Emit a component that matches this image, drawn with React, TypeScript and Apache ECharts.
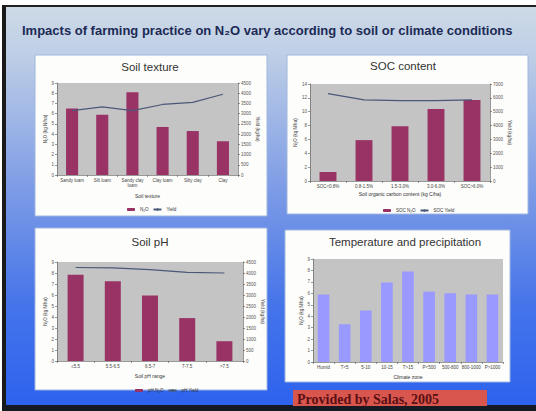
import React, { useEffect, useRef } from "react";
import * as echarts from "echarts";

const slideTitle = "Impacts of farming practice on N\u2082O vary according to soil or climate conditions";
const credit = "Provided by Salas, 2005";

const textureCats = ["Sandy loam", "Silt loam", "Sandy clay\nloam", "Clay loam", "Silty clay", "Clay"];
const textureN2O = [6.5, 5.9, 8.1, 4.7, 4.3, 3.3];
const textureYield = [3150, 3330, 3150, 3450, 3550, 3950];

const socCats = ["SOC<0.8%", "0.8-1.5%", "1.5-3.0%", "3.0-6.0%", "SOC>6.0%"];
const socN2O = [1.3, 5.9, 7.9, 10.4, 11.7];
const socYield = [6300, 5850, 5800, 5800, 5850];

const phCats = ["\u22645.5", "5.5-6.5", "6.5-7", "7-7.5", ">7.5"];
const phN2O = [7.85, 7.25, 5.95, 3.9, 1.8];
const phYield = [4250, 4230, 4150, 4030, 4000];

const climateCats = ["Humid", "T<5", "5-10", "10-15", "T>15", "P<500", "500-800", "800-1000", "P>1000"];
const climateN2O = [5.9, 3.3, 4.5, 6.95, 7.9, 6.15, 6.0, 5.9, 5.9];

const FONT = "Liberation Sans, Arial, sans-serif";
const PLOT_BG = "#c4c4c4";
const BAR = "#993366";
const LINE = "#4a5878";
const BAR2 = "#9999ff";

function catAxis(idx: number, cats: string[], name: string, gap: number) {
  return {
    type: "category",
    gridIndex: idx,
    data: cats,
    name,
    nameLocation: "middle",
    nameGap: gap,
    nameTextStyle: { fontSize: 5, color: "#333", fontFamily: FONT },
    axisLine: { lineStyle: { color: "#555", width: 0.6 } },
    axisTick: { show: true, lineStyle: { color: "#555", width: 0.6 }, length: 2 },
    axisLabel: { fontSize: 4.5, color: "#444", margin: 3, interval: 0, lineHeight: 5, fontFamily: FONT },
  };
}

function valAxis(idx: number, max: number, interval: number, name: string, right: boolean, digits = 0) {
  return {
    type: "value",
    gridIndex: idx,
    position: right ? "right" : "left",
    min: 0,
    max,
    interval,
    name,
    nameLocation: "middle",
    nameGap: right ? 15 : 9,
    nameRotate: right ? -90 : 90,
    nameTextStyle: { fontSize: 4.5, color: "#444", fontFamily: FONT },
    axisLine: { show: true, lineStyle: { color: "#555", width: 0.6 } },
    axisTick: { show: true, lineStyle: { color: "#555", width: 0.6 }, length: 2 },
    axisLabel: {
      fontSize: 4.5,
      color: "#555",
      margin: 3,
      fontFamily: FONT,
      formatter: (v: number) => v.toFixed(digits),
    },
    splitLine: { show: false },
  };
}

export default function App() {
  const ref = useRef<HTMLDivElement>(null);
  useEffect(() => {
    document.body.style.margin = "0";
    const chart = echarts.init(ref.current!, undefined, { renderer: "svg" });
    const panelStyle = { fill: "#fdfdfb", stroke: "#9fb6de", lineWidth: 1 };
    const titleStyle = (t: string) => ({ text: t, fontSize: 11.5, fill: "#333", align: "center", verticalAlign: "middle", fontFamily: FONT });
    const option: any = {
      animation: false,
      backgroundColor: "#ffffff",
      graphic: [
        {
          type: "rect",
          z: -10,
          shape: { x: 3, y: 5, width: 533, height: 401 },
          style: {
            fill: new echarts.graphic.LinearGradient(0, 0, 0, 1, [
              { offset: 0, color: "#cddae6" },
              { offset: 0.12, color: "#bfcfe6" },
              { offset: 0.45, color: "#7f9de6" },
              { offset: 0.75, color: "#4574ea" },
              { offset: 1, color: "#2d62ee" },
            ]),
          },
        },
        { type: "rect", z: -9, shape: { x: 2, y: 5, width: 534, height: 2 }, style: { fill: "#222" } },
        { type: "rect", z: -9, shape: { x: 2, y: 5, width: 4, height: 402 }, style: { fill: "#1a1a1a" } },
        { type: "rect", z: -9, shape: { x: 2, y: 405, width: 534, height: 6 }, style: { fill: "#151a22" } },
        {
          type: "text",
          z: -5,
          left: 22,
          top: 24,
          style: { text: slideTitle, fontSize: 13, fontWeight: "bold", fill: "#1c2a55", fontFamily: FONT },
        },
        { type: "rect", z: -8, shape: { x: 35, y: 55, width: 232, height: 161 }, style: panelStyle },
        { type: "rect", z: -8, shape: { x: 287, y: 55, width: 241, height: 159 }, style: panelStyle },
        { type: "rect", z: -8, shape: { x: 35, y: 228, width: 232, height: 162 }, style: panelStyle },
        { type: "rect", z: -8, shape: { x: 285, y: 230, width: 225, height: 152 }, style: panelStyle },
        { type: "text", z: -5, x: 150, y: 67, style: titleStyle("Soil texture") },
        { type: "text", z: -5, x: 403, y: 66, style: titleStyle("SOC content") },
        { type: "text", z: -5, x: 150, y: 242, style: titleStyle("Soil pH") },
        { type: "text", z: -5, x: 405, y: 242, style: titleStyle("Temperature and precipitation") },
        { type: "rect", z: -5, shape: { x: 293, y: 390, width: 194, height: 16 }, style: { fill: "#d9564e" } },
        {
          type: "text",
          z: -4,
          x: 297,
          y: 399,
          style: { text: credit, fontSize: 14, fontWeight: "bold", fill: "#5a0f12", verticalAlign: "middle", fontFamily: "Liberation Serif, Times New Roman, serif" },
        },
      ],
      legend: [
        {
          data: ["N\u2082O", "Yield"],
          left: 122, top: 202, itemWidth: 8, itemHeight: 3, itemGap: 4,
          textStyle: { fontSize: 4.5, color: "#333", fontFamily: FONT },
          selectedMode: false,
        },
        {
          data: ["SOC N\u2082O", "SOC Yield"],
          left: 378, top: 203, itemWidth: 8, itemHeight: 3, itemGap: 4,
          textStyle: { fontSize: 4.5, color: "#333", fontFamily: FONT },
          selectedMode: false,
        },
        {
          data: ["pH N\u2082O", "pH Yield"],
          left: 130, top: 383, itemWidth: 8, itemHeight: 3, itemGap: 4,
          textStyle: { fontSize: 4.5, color: "#333", fontFamily: FONT },
          selectedMode: false,
        },
      ],
      grid: [
        { left: 57, top: 83, width: 181, height: 92, show: true, backgroundColor: PLOT_BG, borderWidth: 0 },
        { left: 310, top: 84, width: 180, height: 97, show: true, backgroundColor: PLOT_BG, borderWidth: 0 },
        { left: 57, top: 262, width: 186, height: 99, show: true, backgroundColor: PLOT_BG, borderWidth: 0 },
        { left: 313, top: 259, width: 190, height: 103, show: true, backgroundColor: PLOT_BG, borderWidth: 0 },
      ],
      xAxis: [
        catAxis(0, textureCats, "Soil texture", 18),
        catAxis(1, socCats, "Soil organic carbon content (kg C/ha)", 10),
        catAxis(2, phCats, "Soil pH range", 12),
        catAxis(3, climateCats, "Climate zone", 12),
      ],
      yAxis: [
        valAxis(0, 9, 1, "N\u2082O (kg N/ha)", false),
        valAxis(0, 4500, 500, "Yield (kg/ha)", true),
        valAxis(1, 14, 2, "N\u2082O (kg N/ha)", false),
        valAxis(1, 7000, 1000, "Yield (kg/ha)", true),
        valAxis(2, 9, 1, "N\u2082O (kg N/ha)", false),
        valAxis(2, 4500, 500, "Yield (kg/ha)", true),
        valAxis(3, 9, 1, "N\u2082O (kg N/ha)", false),
      ],
      series: [
        { name: "N\u2082O", type: "bar", xAxisIndex: 0, yAxisIndex: 0, data: textureN2O, barWidth: "40%", itemStyle: { color: BAR } },
        { name: "Yield", type: "line", xAxisIndex: 0, yAxisIndex: 1, data: textureYield, symbol: "none", lineStyle: { color: LINE, width: 1.2 }, itemStyle: { color: LINE } },
        { name: "SOC N\u2082O", type: "bar", xAxisIndex: 1, yAxisIndex: 2, data: socN2O, barWidth: "47%", itemStyle: { color: BAR } },
        { name: "SOC Yield", type: "line", xAxisIndex: 1, yAxisIndex: 3, data: socYield, symbol: "none", lineStyle: { color: LINE, width: 1.2 }, itemStyle: { color: LINE } },
        { name: "pH N\u2082O", type: "bar", xAxisIndex: 2, yAxisIndex: 4, data: phN2O, barWidth: "43%", itemStyle: { color: BAR } },
        { name: "pH Yield", type: "line", xAxisIndex: 2, yAxisIndex: 5, data: phYield, symbol: "none", lineStyle: { color: LINE, width: 1.2 }, itemStyle: { color: LINE } },
        { name: "Climate N\u2082O", type: "bar", xAxisIndex: 3, yAxisIndex: 6, data: climateN2O, barWidth: "55%", itemStyle: { color: BAR2 } },
      ],
    };
    chart.setOption(option);
    return () => chart.dispose();
  }, []);
  return <div ref={ref} style={{ position: "fixed", left: 0, top: 0, width: 536, height: 411 }} />;
}
